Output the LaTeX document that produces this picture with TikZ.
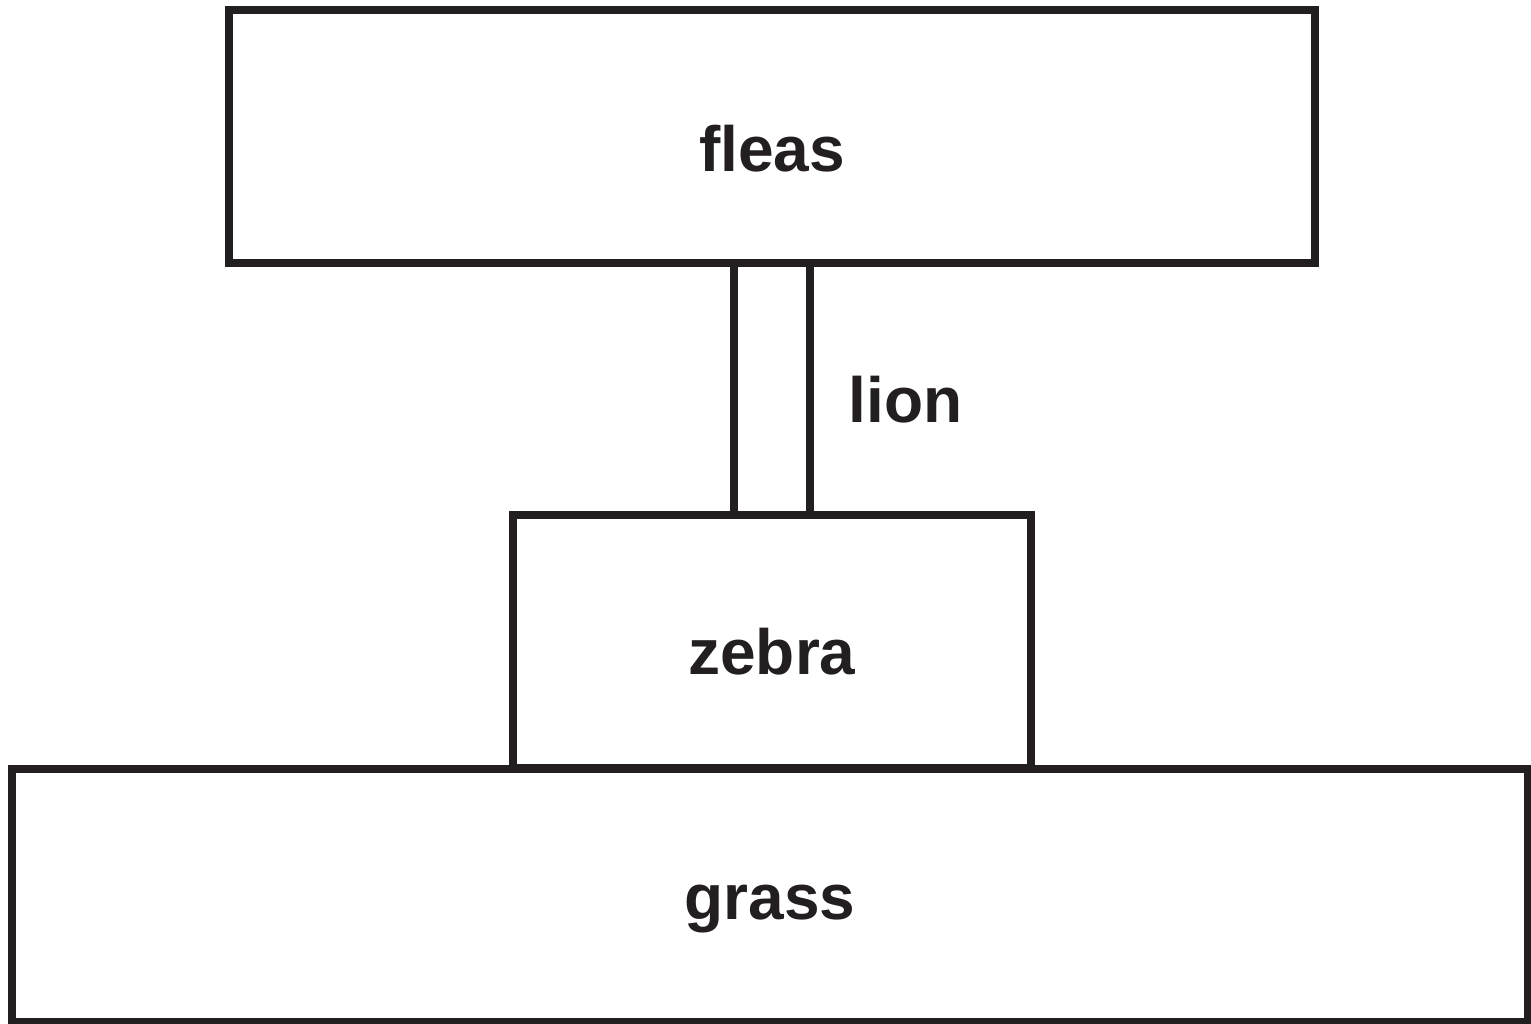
\documentclass[tikz,border=0pt]{standalone}
\usepackage{fontspec}
\setmainfont{Liberation Sans}
\definecolor{ink}{HTML}{231F20}
\begin{document}
\begin{tikzpicture}[x=1pt,y=-1pt,
  box/.style={draw=ink, line width=8pt, text=ink, inner sep=0pt, text depth=0pt,
    font=\fontsize{64}{70}\selectfont\bfseries},
  link/.style={draw=ink, line width=8pt},
  lbl/.style={text=ink, inner sep=0pt, text depth=0pt, text height=66pt,
    font=\fontsize{64}{70}\selectfont\bfseries}]
\useasboundingbox (0,0) rectangle (1531,1024);
\node[box, text height=70pt, minimum width=1086pt, minimum height=253pt] (fleas) at (772,137) {fleas};
\node[box, text height=66pt, minimum width=518pt, minimum height=253pt] (zebra) at (772,641.5) {zebra};
\node[box, text height=48pt, minimum width=1516pt, minimum height=253pt] (grass) at (770,895) {grass};
\coordinate (l1) at (734,0);
\coordinate (l2) at (809.5,0);
\draw[link] (fleas.south -| l1) -- (zebra.north -| l1);
\draw[link] (fleas.south -| l2) -- (zebra.north -| l2) node[lbl, midway, anchor=west, xshift=35pt] (lion) {lion};
\end{tikzpicture}
\end{document}
